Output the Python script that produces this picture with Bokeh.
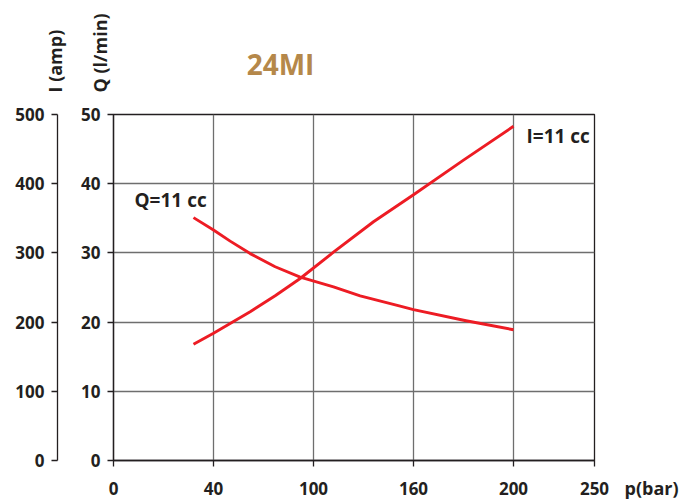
import numpy as np
from bokeh.plotting import figure
from bokeh.layouts import column, row
from bokeh.models import LinearAxis, Range1d, FixedTicker, Label
from bokeh.core.properties import value
from bokeh.embed import file_html
from bokeh.resources import INLINE

# x axis: printed pressure labels (bar) and their grid positions (grid is evenly spaced)
x_tick_labels = ["0", "40", "100", "160", "200", "250"]
x_tick_bar = [0, 40, 100, 160, 200, 250]
x_tick_pos = [0, 1, 2, 3, 4, 4.81]

q_ticks = [0, 10, 20, 30, 40, 50]          # Q (l/min)
i_ticks = [0, 100, 200, 300, 400, 500]     # I (amp)

# Q = 11 cc : flow (l/min) vs pressure (bar)
q_pressure = [32, 40, 50, 62, 77, 92, 112, 128, 152, 160, 181, 200]
q_flow = [35.1, 33.3, 31.7, 29.9, 28.0, 26.5, 25.1, 23.8, 22.3, 21.8, 20.2, 18.9]

# I = 11 cc : current (amp) vs pressure (bar)
i_pressure = [32, 40, 62, 77, 92, 112, 136, 160, 180, 200]
i_current = [168, 184, 215, 238, 263, 301, 345, 384, 434, 483]

title_text = "24MI"
i_title = "I (amp)"
q_title = "Q (l/min)"
x_title = "p(bar)"

DARK = "#231F20"
RED = "#ED1C24"
GOLD = "#B5884A"
FONT = "Open Sans"

TOP_H = 100
TOTAL_W = 698
TOTAL_H = 499


def to_pos(bar):
    return np.interp(bar, x_tick_bar, x_tick_pos)


# ---------- top strip: title and rotated axis titles ----------
top = figure(width=TOTAL_W, height=TOP_H, x_range=Range1d(0, TOTAL_W), y_range=Range1d(0, TOP_H),
             output_backend="svg", toolbar_location=None,
             x_axis_type=None, y_axis_type=None,
             min_border=0, min_border_left=0, min_border_right=0,
             min_border_top=0, min_border_bottom=0)
top.outline_line_color = None
top.grid.visible = False
top.text(x=[280], y=[TOP_H - 63], text=[title_text], text_font=value(FONT),
         text_font_style="bold", text_font_size="28px", text_color=GOLD,
         text_align="center", text_baseline="middle")
top.text(x=[54, 99], y=[TOP_H - 92, TOP_H - 92], text=[i_title, q_title],
         text_font=value(FONT), text_font_style="bold", text_font_size="18px",
         text_color=DARK, text_align="left", text_baseline="middle", angle=np.pi / 2)

# ---------- main chart ----------
MAIN_H = TOTAL_H - TOP_H
p = figure(width=TOTAL_W, height=MAIN_H, x_range=Range1d(0, x_tick_pos[-1]), y_range=Range1d(0, 50),
           output_backend="svg", toolbar_location=None,
           min_border_left=113, min_border_right=TOTAL_W - 594,
           min_border_top=114 - TOP_H, min_border_bottom=TOTAL_H - 460)
p.extra_y_ranges = {"amp": Range1d(0, 500)}
q_axis = p.yaxis[0]
i_axis = LinearAxis(y_range_name="amp")
p.add_layout(i_axis, "left")

q_axis.ticker = FixedTicker(ticks=q_ticks)
i_axis.ticker = FixedTicker(ticks=i_ticks)
x_axis = p.xaxis[0]
x_axis.ticker = FixedTicker(ticks=x_tick_pos)
x_axis.major_label_overrides = dict(zip(x_tick_pos, x_tick_labels))

for ax in (q_axis, i_axis, x_axis):
    ax.axis_line_color = DARK
    ax.axis_line_width = 1.3
    ax.major_tick_line_color = DARK
    ax.major_tick_line_width = 1.3
    ax.major_tick_out = 6
    ax.major_tick_in = 0
    ax.minor_tick_line_color = None
    ax.major_label_text_font = FONT
    ax.major_label_text_font_style = "bold"
    ax.major_label_text_font_size = "17px"
    ax.major_label_text_color = DARK
    ax.major_label_standoff = 7
x_axis.major_label_standoff = 15

# reserve room between the Q labels and the I axis line
q_axis.axis_label = " "
q_axis.axis_label_text_font_size = "1px"
q_axis.axis_label_standoff = 16

p.xgrid.ticker = FixedTicker(ticks=[1, 2, 3, 4])
p.ygrid.ticker = FixedTicker(ticks=[10, 20, 30, 40])
for g in (p.xgrid[0], p.ygrid[0]):
    g.grid_line_color = "#6e6e6e"
    g.grid_line_width = 1.3

p.outline_line_color = DARK
p.outline_line_width = 1.3
p.background_fill_color = "white"
p.border_fill_color = "white"

p.line(to_pos(q_pressure), q_flow, line_color=RED, line_width=2.9, line_join="round")
p.line(to_pos(i_pressure), i_current, line_color=RED, line_width=2.9, line_join="round",
       y_range_name="amp")

for txt, sx, sy in (("Q=11 cc", 21, 261), ("I=11 cc", 413, 325)):
    p.add_layout(Label(x=sx, y=sy, x_units="screen", y_units="screen", text=txt,
                       text_font=FONT, text_font_style="bold", text_font_size="19px",
                       text_color=DARK, text_align="left", text_baseline="middle"))

# x axis title, placed in the right side panel so it is not clipped by the frame
p.add_layout(Label(x=30, y=-27, x_units="screen", y_units="screen", text=x_title,
                   text_font=FONT, text_font_style="bold", text_font_size="18px",
                   text_color=DARK, text_align="left", text_baseline="middle"), "right")

layout = column(top, row(p, spacing=0), spacing=0)
open("out.html", "w").write(file_html(layout, INLINE))
